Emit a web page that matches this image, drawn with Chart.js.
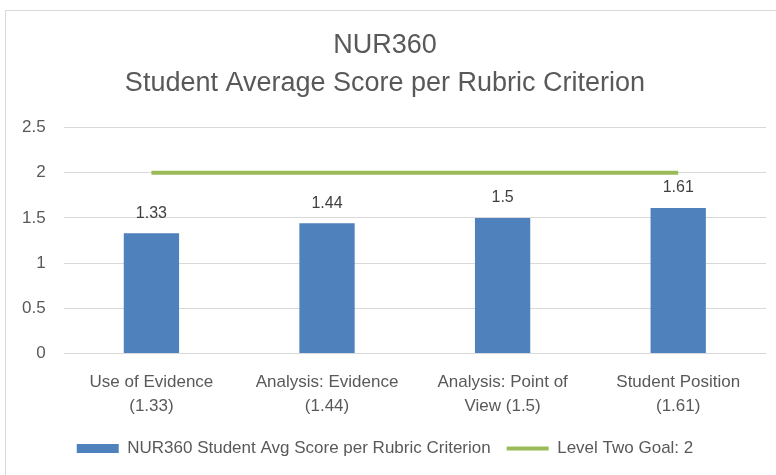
<!DOCTYPE html>
<html>
<head>
<meta charset="utf-8">
<script src="https://cdn.jsdelivr.net/npm/chart.js@4"></script>
<style>
  html, body { margin: 0; padding: 0; background: #fff; }
  #wrap { position: relative; width: 776px; height: 475px; }
  #frame { position: absolute; left: 5px; top: 10px; right: 0; bottom: 0;
           border-left: 1px solid #d9d9d9; border-top: 1px solid #d9d9d9; }
  #chart { position: absolute; left: 0; top: 0; }
</style>
</head>
<body>
<div id="wrap">
  <div id="frame"></div>
  <canvas id="chart" width="776" height="475"></canvas>
</div>
<script>
// 数据
const categories = [
  ['Use of Evidence', '(1.33)'],
  ['Analysis: Evidence', '(1.44)'],
  ['Analysis: Point of', 'View (1.5)'],
  ['Student Position', '(1.61)']
];
const avgScores = [1.33, 1.44, 1.5, 1.61];
const goalValues = [2, 2, 2, 2];
const titleLines = ['NUR360', 'Student Average Score per Rubric Criterion'];

const FONT = "'Liberation Sans', sans-serif";
const TEXT = '#595959';

// 柱顶数值标签
const barLabels = {
  id: 'barLabels',
  afterDatasetsDraw(chart) {
    const ctx = chart.ctx;
    const meta = chart.getDatasetMeta(0);
    ctx.save();
    ctx.font = '16px ' + FONT;
    ctx.fillStyle = '#404040';
    ctx.textAlign = 'center';
    ctx.textBaseline = 'bottom';
    meta.data.forEach((bar, i) => {
      ctx.fillText(String(avgScores[i]), bar.x, bar.y - 12);
    });
    ctx.restore();
  }
};

new Chart(document.getElementById('chart'), {
  data: {
    labels: categories,
    datasets: [
      {
        type: 'bar',
        label: 'NUR360 Student Avg Score per Rubric Criterion',
        data: avgScores,
        backgroundColor: '#4F81BD',
        borderColor: '#4F81BD',
        pointStyle: 'rect',
        barPercentage: 0.63,
        categoryPercentage: 0.5,
        order: 2
      },
      {
        type: 'line',
        label: 'Level Two Goal: 2',
        data: goalValues,
        borderColor: '#9BBB59',
        backgroundColor: '#9BBB59',
        borderWidth: 4,
        pointRadius: 0,
        pointStyle: 'line',
        order: 1
      }
    ]
  },
  options: {
    responsive: false,
    animation: false,
    layout: { padding: { top: 27, left: 4, right: 10, bottom: 8 } },
    plugins: {
      title: {
        display: true,
        text: titleLines,
        color: TEXT,
        font: { family: FONT, size: 27, weight: 'normal', lineHeight: 1.4 },
        padding: { top: 0, bottom: 25 }
      },
      legend: {
        position: 'bottom',
        labels: {
          usePointStyle: true,
          pointStyleWidth: 42,
          boxHeight: 9,
          color: TEXT,
          padding: 16,
          font: { family: FONT, size: 17 },
          sort: (a, b) => a.datasetIndex - b.datasetIndex
        }
      },
      tooltip: { enabled: false }
    },
    scales: {
      x: {
        grid: { display: false },
        border: { display: false },
        ticks: { color: TEXT, padding: 9, font: { family: FONT, size: 17, lineHeight: 1.4 }, maxRotation: 0 },
        afterFit: (axis) => { axis.height -= 3; }
      },
      y: {
        min: 0,
        max: 2.5,
        ticks: {
          stepSize: 0.5, color: TEXT, padding: 18, font: { family: FONT, size: 17 },
          callback: (v) => String(v)
        },
        grid: { color: '#d9d9d9', drawTicks: false },
        border: { display: false }
      }
    }
  },
  plugins: [barLabels]
});
</script>
</body>
</html>
